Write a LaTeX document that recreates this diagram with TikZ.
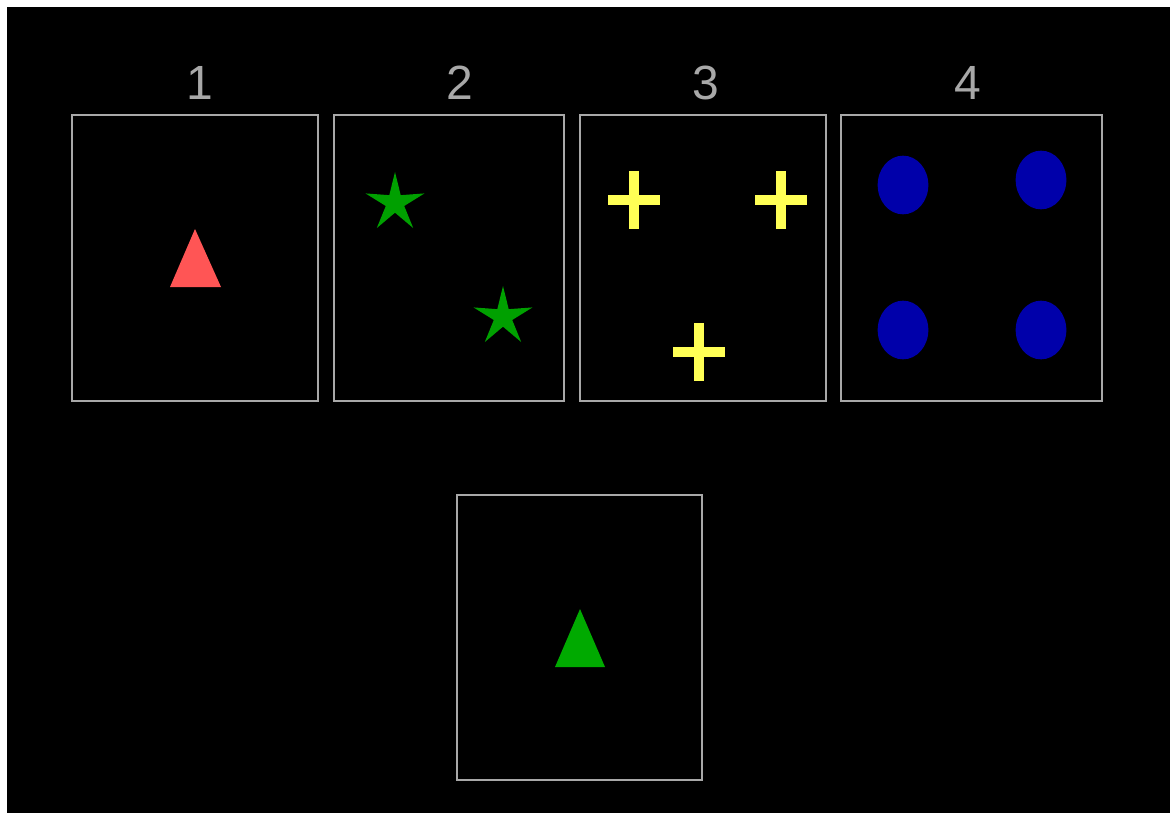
\documentclass[tikz,border=0pt]{standalone}
\usepackage{fontspec}
\setmainfont{Liberation Sans}
\usetikzlibrary{shapes.geometric}
\definecolor{frame}{HTML}{A8A8A8}
\definecolor{redtri}{HTML}{FF5555}
\definecolor{greenstar}{HTML}{00A000}
\definecolor{yellowx}{HTML}{FFFF55}
\definecolor{bluedot}{HTML}{0000AA}
\definecolor{greentri}{HTML}{00AA00}
\begin{document}
\begin{tikzpicture}[x=0.75pt,y=-0.75pt,
  panel/.style={draw=frame,line width=1.5pt},
  digit/.style={text=frame,font=\fontsize{36}{36}\selectfont,inner sep=0pt},
  starshape/.style={star,star points=5,star point ratio=3.2,minimum size=46.5pt,inner sep=0pt,fill=greenstar,draw=none},
  dot/.style={ellipse,minimum width=38pt,minimum height=44pt,inner sep=0pt,fill=bluedot,draw=none},
  crossarm/.style={line width=7.5pt,yellowx}]
\useasboundingbox (0,0) rectangle (1170,813);
\fill[white] (0,0) rectangle (1170,813);
\fill[black] (7,7) rectangle (1170,813);
% panels
\draw[panel] (72,115) rectangle (318,401);
\draw[panel] (334,115) rectangle (564,401);
\draw[panel] (580,115) rectangle (826,401);
\draw[panel] (841,115) rectangle (1102,401);
\draw[panel] (457,495) rectangle (702,780);
% digits
\node[digit] (d1) at (200,83) {1};
\node[digit] (d2) at (460,83) {2};
\node[digit] (d3) at (706,83) {3};
\node[digit] (d4) at (968,83) {4};
% panel 1 triangle
\fill[redtri] (195,229) -- (221,287) -- (170,287) -- cycle;
% panel 2 stars
\node[starshape] (s1) at (395,203) {};
\node[starshape] (s2) at (503,317) {};
% panel 3 crosses
\foreach \cx/\cy in {634/200, 781/200, 699/352}{
  \draw[crossarm] (\cx-26,\cy) -- (\cx+26,\cy);
  \draw[crossarm] (\cx,\cy-29) -- (\cx,\cy+29);
}
% panel 4 dots
\node[dot] (c1) at (903,185) {};
\node[dot] (c2) at (1041,180) {};
\node[dot] (c3) at (903,330) {};
\node[dot] (c4) at (1041,330) {};
% bottom panel triangle
\fill[greentri] (580,609) -- (605,667) -- (555,667) -- cycle;
\end{tikzpicture}
\end{document}
